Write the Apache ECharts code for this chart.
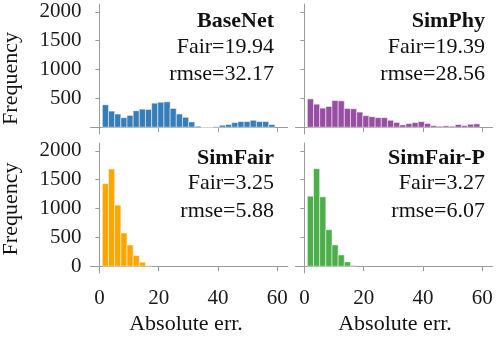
<!DOCTYPE html>
<html>
<head>
<meta charset="utf-8">
<script src="https://cdn.jsdelivr.net/npm/echarts@6/dist/echarts.min.js"></script>
<style>
  html, body { margin: 0; padding: 0; background: #fff; }
  #chart { width: 498px; height: 342px; }
</style>
</head>
<body>
<div id="chart"></div>
<script>
// histogram bin edges (absolute error)
var binEdges = [1.00, 3.08, 5.16, 7.24, 9.32, 11.40, 13.48, 15.56, 17.64, 19.72,
  21.80, 23.88, 25.96, 28.04, 30.12, 32.20, 34.28, 36.36, 38.44, 40.52,
  42.60, 44.68, 46.76, 48.84, 50.92, 53.00, 55.08, 57.16, 59.24];

var baseNet = [388, 279, 228, 165, 205, 285, 313, 308, 416, 433, 439, 325, 228, 171,
  91, 17, 0, 0, 10, 34, 46, 80, 97, 97, 120, 97, 97, 46];
var simPhy = [490, 399, 331, 359, 462, 456, 325, 319, 262, 200, 182, 165, 165, 120,
  82, 40, 63, 80, 97, 63, 28, 17, 23, 17, 46, 28, 51, 57];
var simFair = [1431, 1684, 1058, 575, 368, 184, 69, 12];
var simFairP = [1213, 1690, 1202, 632, 368, 195, 75, 12];

var panelNames = ['BaseNet', 'SimPhy', 'SimFair', 'SimFair-P'];
var fairScores = ['Fair=19.94', 'Fair=19.39', 'Fair=3.25', 'Fair=3.27'];
var rmseScores = ['rmse=32.17', 'rmse=28.56', 'rmse=5.88', 'rmse=6.07'];
var xTicks = [0, 20, 40, 60];
var yTicks = [0, 500, 1000, 1500, 2000];

var chart = echarts.init(document.getElementById('chart'));
var serif = 'Liberation Serif';
var axisGray = '#9a9a9a';
var colors = ['#377eb8', '#984ea3', '#ffa500', '#4daf4a'];
var allData = [baseNet, simPhy, simFair, simFairP];

var grids = [
  {left: 90.5, top: 4, width: 197, height: 130},
  {left: 295.5, top: 4, width: 197, height: 130},
  {left: 90.5, top: 143, width: 197, height: 130},
  {left: 295.5, top: 143, width: 197, height: 130}
];

function histData(counts) {
  var out = [];
  for (var i = 0; i < counts.length; i++) {
    out.push([binEdges[i], binEdges[i + 1], counts[i]]);
  }
  return out;
}

function plain(v) { return String(v); }

var xAxes = [], yAxes = [], series = [], graphics = [];
for (var k = 0; k < 4; k++) {
  var bottomRow = k >= 2;
  var leftCol = k % 2 === 0;
  xAxes.push({
    type: 'value', gridIndex: k, min: -3, max: 63.5,
    splitLine: {show: false},
    axisLine: {show: true, lineStyle: {color: axisGray, width: 1}},
    axisTick: {show: true, length: 5, customValues: xTicks, lineStyle: {color: axisGray}},
    axisLabel: {show: bottomRow, customValues: xTicks, margin: 15, formatter: plain,
      fontFamily: serif, fontSize: 21, color: '#1a1a1a'}
  });
  yAxes.push({
    type: 'value', gridIndex: k, min: -118, max: 2135,
    splitLine: {show: false},
    axisLine: {show: true, lineStyle: {color: axisGray, width: 1}},
    axisTick: {show: true, length: 4, customValues: yTicks, lineStyle: {color: axisGray}},
    axisLabel: {show: leftCol, margin: 9, formatter: plain,
      customValues: bottomRow ? yTicks : yTicks.slice(1),
      fontFamily: serif, fontSize: 21, color: '#1a1a1a'}
  });
  (function (color) {
    series.push({
      type: 'custom', xAxisIndex: k, yAxisIndex: k,
      data: histData(allData[k]),
      renderItem: function (params, api) {
        var p0 = api.coord([api.value(0), api.value(2)]);
        var p1 = api.coord([api.value(1), 0]);
        return {
          type: 'rect',
          shape: {x: p0[0], y: p0[1], width: p1[0] - p0[0], height: p1[1] - p0[1]},
          style: {fill: color, stroke: 'rgba(255,255,255,0.5)', lineWidth: 1}
        };
      }
    });
  })(colors[k]);

  var tx = leftCol ? 274 : 485;
  var ty = bottomRow ? 136.5 : 0;
  graphics.push({type: 'text', x: tx, y: 21.5 + ty, style: {text: panelNames[k],
    fontFamily: serif, fontSize: 22, fontWeight: 'bold', fill: '#111', align: 'right', verticalAlign: 'middle'}});
  graphics.push({type: 'text', x: tx, y: 47 + ty, style: {text: fairScores[k],
    fontFamily: serif, fontSize: 22, fill: '#111', align: 'right', verticalAlign: 'middle'}});
  graphics.push({type: 'text', x: tx, y: 74.5 + ty, style: {text: rmseScores[k],
    fontFamily: serif, fontSize: 22, fill: '#111', align: 'right', verticalAlign: 'middle'}});
}

// axis titles
graphics.push({type: 'text', x: 11, y: 78.5, rotation: Math.PI / 2, style: {text: 'Frequency',
  fontFamily: serif, fontSize: 22, fill: '#111', align: 'center', verticalAlign: 'middle'}});
graphics.push({type: 'text', x: 11, y: 209, rotation: Math.PI / 2, style: {text: 'Frequency',
  fontFamily: serif, fontSize: 22, fill: '#111', align: 'center', verticalAlign: 'middle'}});
graphics.push({type: 'text', x: 186, y: 324, style: {text: 'Absolute err.',
  fontFamily: serif, fontSize: 22, fill: '#111', align: 'center', verticalAlign: 'middle'}});
graphics.push({type: 'text', x: 395, y: 324, style: {text: 'Absolute err.',
  fontFamily: serif, fontSize: 22, fill: '#111', align: 'center', verticalAlign: 'middle'}});

chart.setOption({
  animation: false,
  grid: grids,
  xAxis: xAxes,
  yAxis: yAxes,
  series: series,
  graphic: graphics
});
window.addEventListener('resize', function () { chart.resize(); });
</script>
</body>
</html>
